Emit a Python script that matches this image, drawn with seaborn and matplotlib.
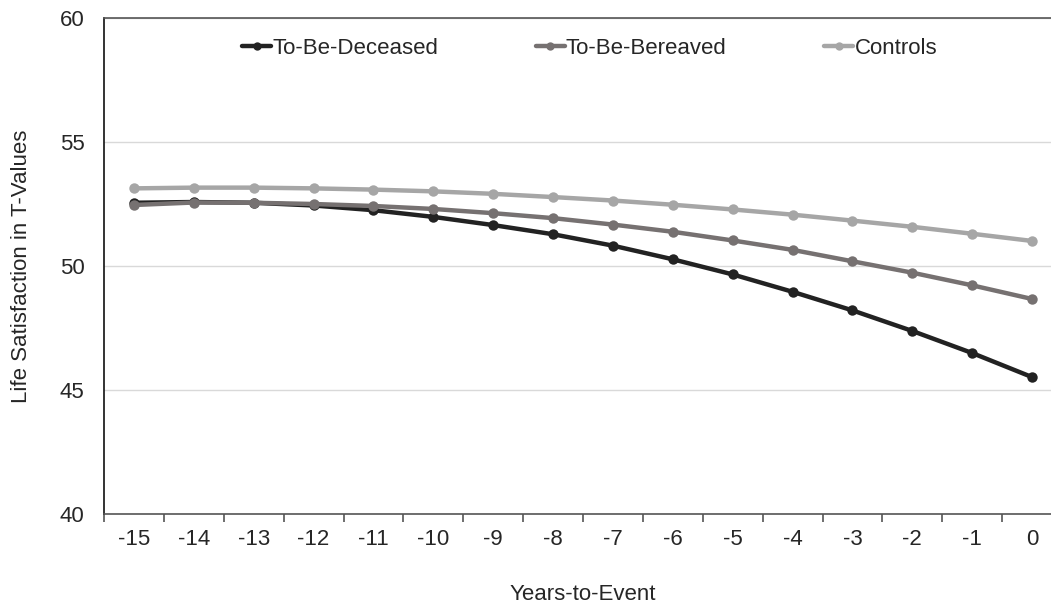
import pandas as pd
import numpy as np
import matplotlib
matplotlib.use("Agg")
import matplotlib.pyplot as plt
import seaborn as sns

# values
years = list(range(-15, 1))
deceased = [52.55, 52.58, 52.55, 52.44, 52.25, 51.98, 51.65, 51.28, 50.82, 50.27,
            49.66, 48.96, 48.21, 47.38, 46.49, 45.52]
bereaved = [52.46, 52.56, 52.55, 52.50, 52.42, 52.30, 52.13, 51.93, 51.67, 51.38,
            51.03, 50.65, 50.19, 49.73, 49.22, 48.67]
controls = [53.13, 53.16, 53.16, 53.13, 53.08, 53.01, 52.91, 52.78, 52.64, 52.47,
            52.28, 52.07, 51.83, 51.58, 51.30, 51.01]

groups = ["To-Be-Deceased", "To-Be-Bereaved", "Controls"]
colors = ["#222222", "#767171", "#a6a6a6"]

df = pd.concat([
    pd.DataFrame({"year": years, "value": deceased, "group": groups[0]}),
    pd.DataFrame({"year": years, "value": bereaved, "group": groups[1]}),
    pd.DataFrame({"year": years, "value": controls, "group": groups[2]}),
])

sns.set_style("white")
plt.rcParams["font.family"] = ["Liberation Sans", "DejaVu Sans"]
plt.rcParams["axes.unicode_minus"] = False
FS = 16

fig = plt.figure(figsize=(10.51, 6.06), dpi=100)
ax = fig.add_axes([104 / 1051, 92 / 606, 958 / 1051, 496 / 606])

sns.lineplot(data=df, x="year", y="value", hue="group", hue_order=groups,
             palette=colors, marker="o", markersize=7.5, markeredgewidth=0,
             linewidth=3.2, ax=ax)

ax.set_xlim(-15.5, 0.5)
ax.set_ylim(40, 60)
ax.set_yticks([40, 45, 50, 55, 60])
ax.set_xticks(years)
ax.set_xticks(np.arange(-15.5, 0.6, 1), minor=True)
ax.tick_params(axis="x", which="major", bottom=False, length=0, pad=11, labelsize=FS)
ax.tick_params(axis="x", which="minor", bottom=True, length=6, width=1.2,
               color="#555555", direction="out")
ax.tick_params(axis="y", length=0, pad=14, labelsize=FS)
ax.grid(axis="y", color="#d9d9d9", linewidth=1)

for side in ["left", "bottom", "top"]:
    ax.spines[side].set_color("#555555")
    ax.spines[side].set_linewidth(1.2)
ax.spines["left"].set_color("#111111")
ax.spines["right"].set_visible(False)

ax.set_xlabel("Years-to-Event", fontsize=FS, labelpad=24)
ax.set_ylabel("Life Satisfaction in T-Values", fontsize=FS, labelpad=20)

handles, labels = ax.get_legend_handles_labels()
ax.legend(handles, labels, loc="upper center", bbox_to_anchor=(0.507, 1.0),
          ncol=3, frameon=False, fontsize=FS, handlelength=1.3,
          handletextpad=0.05, columnspacing=4.4, markerscale=0.8)

fig.savefig("out.png", dpi=100)
